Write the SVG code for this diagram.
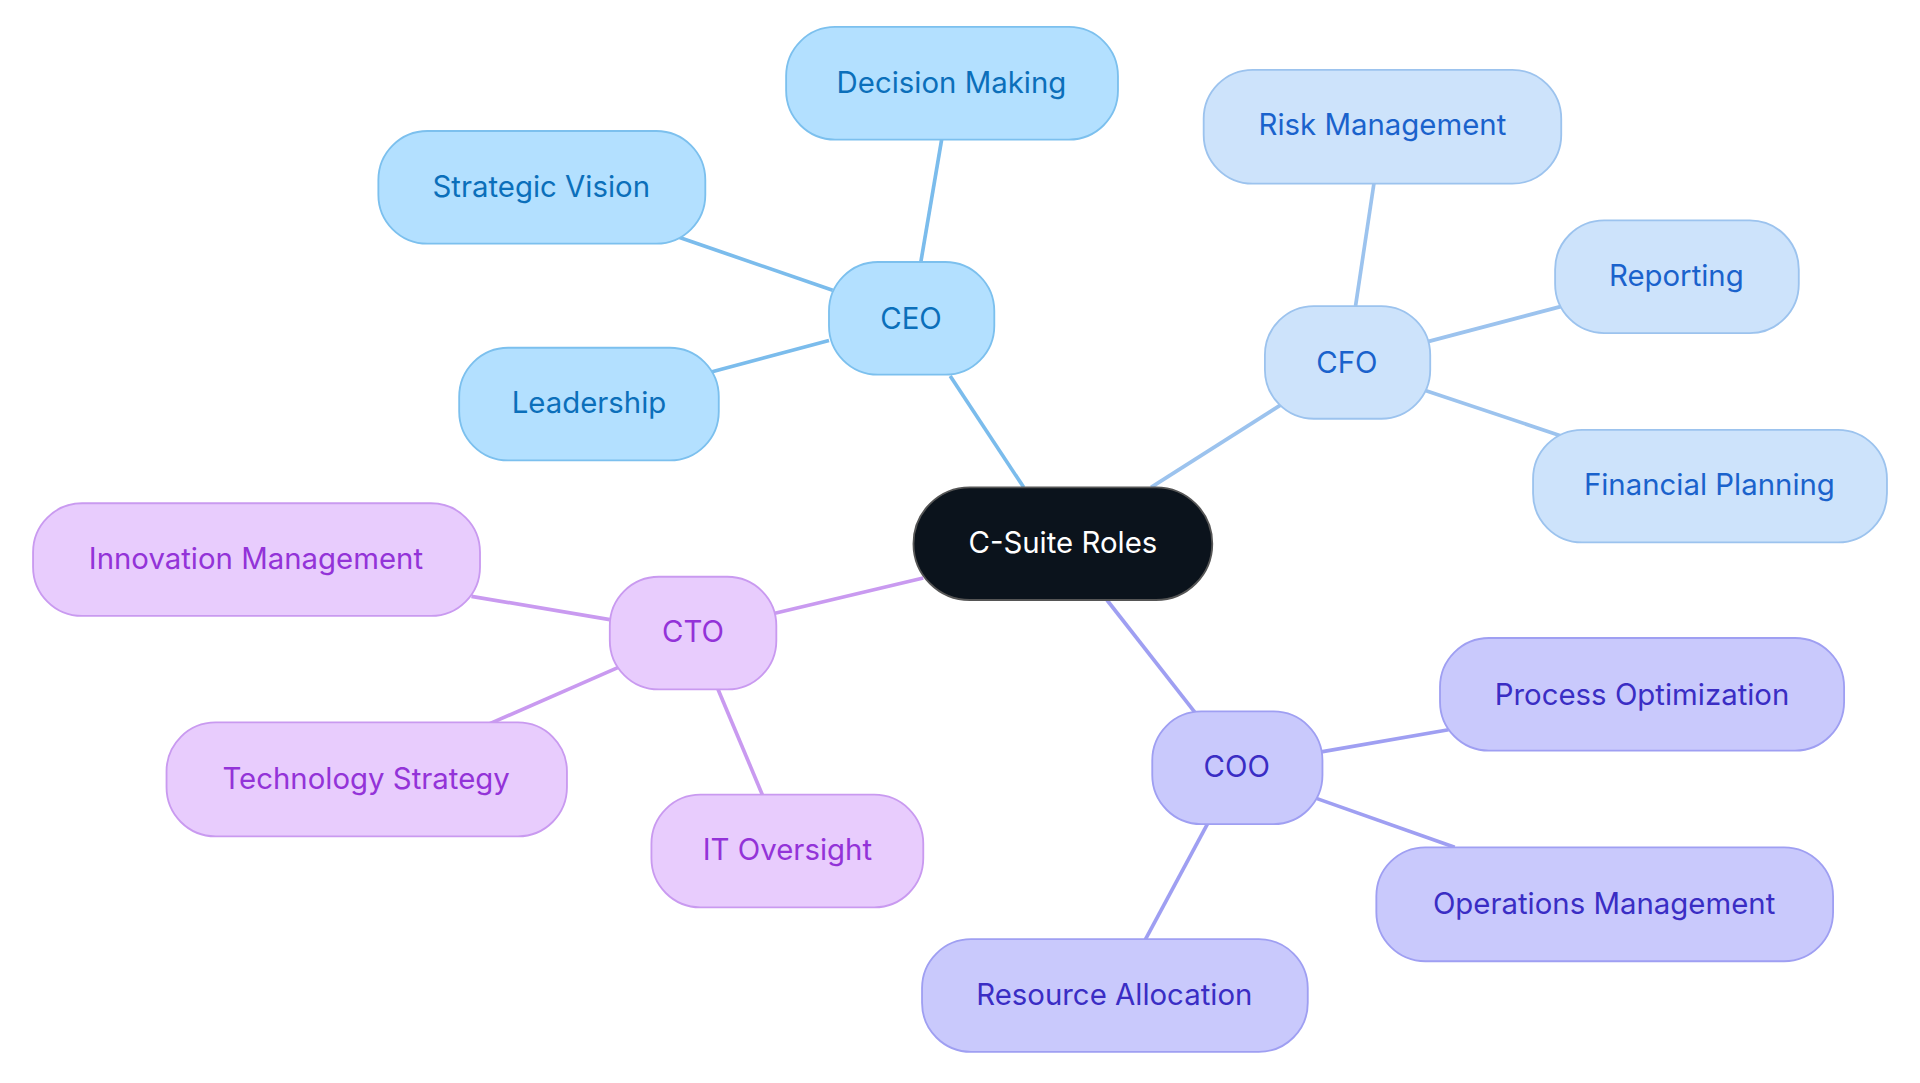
<svg xmlns="http://www.w3.org/2000/svg" width="1920" height="1083" viewBox="0 0 1920 1083">
<style>
text{font-family:Inter,"Noto Sans","Liberation Sans",sans-serif;font-size:24px;text-anchor:middle;dominant-baseline:central}
.e{stroke-width:3;fill:none}
.ceo rect{fill:#b3e0ff;stroke:#7cc0ee;stroke-width:1.5}.ceo text{fill:#0b6fba}
.cfo rect{fill:#cde3fb;stroke:#9cc3ee;stroke-width:1.5}.cfo text{fill:#1a62cc}
.cto rect{fill:#e8ccfd;stroke:#c99af0;stroke-width:1.5}.cto text{fill:#9333d8}
.coo rect{fill:#c9c9fc;stroke:#9f9ff2;stroke-width:1.5}.coo text{fill:#3a2dc4}
</style>
<rect width="1920" height="1083" fill="#fff"/>
<g transform="scale(1.2245)">
<g id="connectors">
<g stroke="#7bbcec" class="e"><line x1="836" y1="398" x2="776" y2="307"/><line x1="752" y1="214" x2="769" y2="114"/><line x1="680" y1="237" x2="555" y2="194"/><line x1="677" y1="278" x2="580" y2="304"/></g>
<g stroke="#9cc3ee" class="e"><line x1="940" y1="398" x2="1047" y2="330"/><line x1="1107" y1="250" x2="1122" y2="150"/><line x1="1166" y1="279" x2="1276" y2="250"/><line x1="1164" y1="319" x2="1275" y2="356"/></g>
<g stroke="#c99af0" class="e"><line x1="754" y1="472" x2="632" y2="501"/><line x1="498" y1="506" x2="385" y2="487"/><line x1="505" y1="545" x2="400" y2="591"/><line x1="586" y1="562" x2="623" y2="650"/></g>
<g stroke="#9f9ff2" class="e"><line x1="904" y1="490" x2="976" y2="582"/><line x1="1079" y1="614" x2="1183" y2="596"/><line x1="1075" y1="652" x2="1188" y2="692"/><line x1="986" y1="673" x2="935" y2="768"/></g>
</g>
<g id="root"><rect x="746" y="398" width="244" height="92" rx="46" fill="#0b131c" stroke="#555" stroke-width="1.5"/><text x="868" y="443" fill="#fff">C-Suite Roles</text></g>
<g id="ceo" class="ceo"><rect x="677" y="214" width="135" height="92" rx="40"/><text x="744" y="260">CEO</text></g>
<g id="decision" class="ceo"><rect x="642" y="22" width="271" height="92" rx="40"/><text x="777" y="67">Decision Making</text></g>
<g id="strategic" class="ceo"><rect x="309" y="107" width="267" height="92" rx="40"/><text x="442" y="152">Strategic Vision</text></g>
<g id="leadership" class="ceo"><rect x="375" y="284" width="212" height="92" rx="40"/><text x="481" y="329">Leadership</text></g>
<g id="cfo" class="cfo"><rect x="1033" y="250" width="135" height="92" rx="40"/><text x="1100" y="296">CFO</text></g>
<g id="risk" class="cfo"><rect x="983" y="57" width="292" height="93" rx="40"/><text x="1129" y="102">Risk Management</text></g>
<g id="reporting" class="cfo"><rect x="1270" y="180" width="199" height="92" rx="40"/><text x="1369" y="225">Reporting</text></g>
<g id="financial" class="cfo"><rect x="1252" y="351" width="289" height="92" rx="40"/><text x="1396" y="396">Financial Planning</text></g>
<g id="cto" class="cto"><rect x="498" y="471" width="136" height="92" rx="40"/><text x="566" y="516">CTO</text></g>
<g id="innovation" class="cto"><rect x="27" y="411" width="365" height="92" rx="40"/><text x="209" y="456">Innovation Management</text></g>
<g id="techstrat" class="cto"><rect x="136" y="590" width="327" height="93" rx="40"/><text x="299" y="636">Technology Strategy</text></g>
<g id="itoversight" class="cto"><rect x="532" y="649" width="222" height="92" rx="40"/><text x="643" y="694">IT Oversight</text></g>
<g id="coo" class="coo"><rect x="941" y="581" width="139" height="92" rx="40"/><text x="1010" y="626">COO</text></g>
<g id="process" class="coo"><rect x="1176" y="521" width="330" height="92" rx="40"/><text x="1341" y="567">Process Optimization</text></g>
<g id="operations" class="coo"><rect x="1124" y="692" width="373" height="93" rx="40"/><text x="1310" y="738">Operations Management</text></g>
<g id="resource" class="coo"><rect x="753" y="767" width="315" height="92" rx="40"/><text x="910" y="812">Resource Allocation</text></g>
</g>
</svg>
